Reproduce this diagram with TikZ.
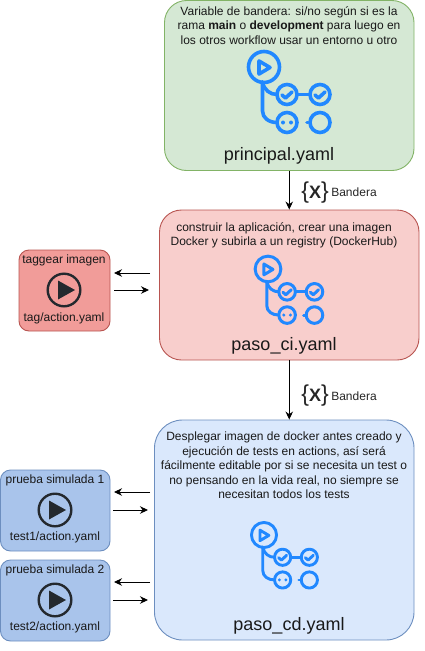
\documentclass[tikz,border=0pt]{standalone}
\usepackage{fontspec}
\setmainfont{Liberation Sans}
\usetikzlibrary{arrows.meta}

\definecolor{greenfill}{HTML}{D5E8D4}
\definecolor{greenline}{HTML}{82B366}
\definecolor{redfill}{HTML}{F8CECC}
\definecolor{redline}{HTML}{B85450}
\definecolor{bluefill}{HTML}{DAE8FC}
\definecolor{blueline}{HTML}{6C8EBF}
\definecolor{tagfill}{HTML}{F19C99}
\definecolor{testfill}{HTML}{A9C4EB}
\definecolor{iconblue}{HTML}{2188FF}
\definecolor{icondark}{HTML}{24292E}

\newcommand{\flagmark}{\raisebox{-.5pt}{\fontsize{23}{24}\selectfont\{}\raisebox{0pt}{\bfseries\fontsize{18}{20}\selectfont X}\raisebox{-.5pt}{\fontsize{23}{24}\selectfont\}}}

\tikzset{
  flowbox/.style={draw,line width=.9pt,rounded corners=#1,inner sep=0pt},
  txt/.style={align=center,inner sep=0pt,text=black!90,font=\fontsize{12}{14.4}\selectfont},
  filename/.style={inner sep=0pt,text=black!90,font=\fontsize{18}{20}\selectfont},
  bandera/.style={inner sep=0pt,text=black!85},
  banderatxt/.style={inner sep=0pt,text=black!85,font=\fontsize{12}{14}\selectfont},
  pics/flowicon/.style={code={
    \begin{scope}[draw=iconblue,line cap=round,line join=round]
      \draw (0,0) circle (15.5);
      \draw (-5,-6) -- (-5,7) -- (6,.5) -- cycle;
      \draw (-1.5,15) -- (-1.5,44) .. controls (-1.5,51) and (5,55.5) .. (13,55.5);
      \draw (-1.5,15) .. controls (0,23) and (6,27.5) .. (13,27.5);
      \draw (23,27.5) circle (10);
      \draw (56,27.5) circle (10);
      \draw (23,55.5) circle (10);
      \draw (56,55.5) circle (10);
      \draw (33,27.5) -- (46,27.5);
      \draw (43,55.5) -- (44,55.5);
      \draw (18,28) -- (21.5,31) -- (28,25);
      \draw (51,28) -- (54.5,31) -- (61,25);
      \fill[iconblue] (19,55.5) circle (2) (27,55.5) circle (2);
    \end{scope}
  }},
  pics/playicon/.style={code={
    \draw[icondark,line width=2.4pt] (0,0) circle (16.3);
    \fill[icondark] (-6,-9.5) -- (-6,9.5) -- (11,0) -- cycle;
  }}
}

\begin{document}
\begin{tikzpicture}[x=1pt,y=-1pt,>={Stealth[length=8pt,width=7.5pt]},line width=.9pt]
  \useasboundingbox (0,0) rectangle (425,651);

  % boxes
  \node[flowbox=22pt,fill=greenfill,draw=greenline,minimum width=249.5pt,minimum height=170pt] (principal) at (289.25,85.5) {};
  \node[flowbox=22pt,fill=redfill,draw=redline,minimum width=259.5pt,minimum height=150pt] (pasoci) at (289.25,285) {};
  \node[flowbox=28pt,fill=bluefill,draw=blueline,minimum width=259.5pt,minimum height=220pt] (pasocd) at (284.25,530) {};
  \node[flowbox=10pt,fill=tagfill,draw=redline,minimum width=91pt,minimum height=81pt] (tagaction) at (64.5,290.5) {};
  \node[flowbox=10pt,fill=testfill,draw=blueline,minimum width=109.5pt,minimum height=81pt] (testa) at (55.25,510.5) {};
  \node[flowbox=10pt,fill=testfill,draw=blueline,minimum width=109.5pt,minimum height=81pt] (testb) at (55.25,600.5) {};

  % texts of the big boxes
  \node[txt] (principaltxt) at (289,25.5) {Variable de bandera: si/no según si es la\\rama \textbf{main} o \textbf{development} para luego en\\los otros workflow usar un entorno u otro};
  \node[filename] (principalname) at (279,156) {principal.yaml};
  \node[txt] (pasocitxt) at (284,235.5) {construir la aplicación, crear una imagen\\Docker y subirla a un registry (DockerHub)};
  \node[filename] (pasociname) at (284,346) {paso\_ci.yaml};
  \node[txt] (pasocdtxt) at (284,465.5) {Desplegar imagen de docker antes creado y\\ejecución de tests en actions, así será\\fácilmente editable por si se necesita un test o\\no pensando en la vida real, no siempre se\\necesitan todos los tests};
  \node[filename] (pasocdname) at (289,626) {paso\_cd.yaml};

  % workflow icons
  \pic[line width=3.6pt] at (264,67) {flowicon};
  \pic[scale=.83,line width=3pt] at (268,269) {flowicon};
  \pic[scale=.81,line width=2.9pt] at (264,535) {flowicon};

  % actions
  \node[txt] (tagtop) at (64,260) {taggear imagen};
  \pic at (64,290) {playicon};
  \node[txt] (tagbot) at (64,318) {tag/action.yaml};
  \node[txt] (testatop) at (55,480) {prueba simulada 1};
  \pic at (55,510) {playicon};
  \node[txt] (testabot) at (55,537) {test1/action.yaml};
  \node[txt] (testbtop) at (55,570) {prueba simulada 2};
  \pic at (55,600) {playicon};
  \node[txt] (testbbot) at (55,627) {test2/action.yaml};

  % flags
  \draw[->] (principal.south) -- (pasoci.north);
  \node[bandera] (flaga) at (315,193) {\flagmark};
  \node[banderatxt] (flagatxt) at (354,192) {Bandera};
  \draw[->] (pasoci.south) -- (pasoci.south |- pasocd.north);
  \node[bandera] (flagb) at (315,396) {\flagmark};
  \node[banderatxt] (flagbtxt) at (354,396) {Bandera};

  % free ends of the side arrows
  \coordinate (tagl) at (114,273);
  \coordinate (tagr) at (150,273);
  \coordinate (tagm) at (114,290);
  \coordinate (tagn) at (149,290);
  \coordinate (testal) at (114,492);
  \coordinate (testar) at (150,492);
  \coordinate (testam) at (113,510);
  \coordinate (testan) at (148,510);
  \coordinate (testbl) at (114,582);
  \coordinate (testbr) at (150,582);
  \coordinate (testbm) at (113,600);
  \coordinate (testbn) at (148,600);

  \draw[->] (tagr) -- (tagl);
  \draw[->] (tagm) -- (tagn);
  \draw[->] (testar) -- (testal);
  \draw[->] (testam) -- (testan);
  \draw[->] (testbr) -- (testbl);
  \draw[->] (testbm) -- (testbn);
\end{tikzpicture}
\end{document}
